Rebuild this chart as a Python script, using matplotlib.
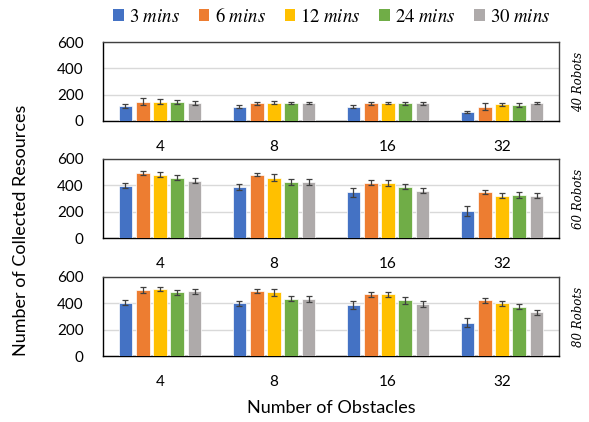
import matplotlib
matplotlib.use("Agg")
import matplotlib.pyplot as plt
import numpy as np
from matplotlib.patches import Patch

plt.rcParams['font.family'] = ['Lato', 'DejaVu Sans']
plt.rcParams['mathtext.fontset'] = 'stix'

obstacles = ["4", "8", "16", "32"]
series = ["3 mins", "6 mins", "12 mins", "24 mins", "30 mins"]
robots = ["40 Robots", "60 Robots", "80 Robots"]
colors = ["#4472C4", "#ED7D31", "#FFC000", "#70AD47", "#AEAAAA"]

vals_40 = [[115, 110, 110, 66],
           [146, 133, 133, 108],
           [146, 140, 140, 127],
           [146, 140, 133, 120],
           [140, 140, 133, 134]]
err_40 = [[15, 10, 8, 8],
          [25, 15, 15, 28],
          [18, 13, 8, 10],
          [15, 8, 13, 13],
          [15, 8, 10, 8]]

vals_60 = [[396, 390, 347, 204],
           [495, 480, 421, 347],
           [480, 459, 416, 321],
           [459, 426, 390, 327],
           [434, 426, 360, 321]]
err_60 = [[20, 23, 36, 36],
          [13, 10, 20, 15],
          [20, 25, 23, 20],
          [18, 20, 18, 20],
          [20, 23, 20, 20]]

vals_80 = [[405, 400, 387, 254],
           [504, 491, 468, 423],
           [509, 484, 468, 400],
           [484, 436, 423, 375],
           [491, 430, 395, 332]]
err_80 = [[20, 20, 30, 35],
          [23, 15, 18, 18],
          [18, 25, 20, 18],
          [18, 20, 25, 20],
          [18, 23, 23, 18]]

all_vals = [vals_40, vals_60, vals_80]
all_errs = [err_40, err_60, err_80]

fig = plt.figure(figsize=(5.89, 4.22), dpi=100)
W, H = 589, 422
left, right = 103 / W, 559 / W
panels_px = [(42, 121), (159, 238), (277, 356)]

x = np.arange(len(obstacles))
bw = 0.12
stride = 0.152

for p, (top, bot) in enumerate(panels_px):
    ax = fig.add_axes([left, 1 - bot / H, right - left, (bot - top) / H])
    vals = all_vals[p]
    errs = all_errs[p]
    for i in range(len(series)):
        pos = x + (i - 2) * stride
        ax.bar(pos, vals[i], width=bw, color=colors[i], edgecolor='white',
               linewidth=0.5, zorder=3)
        ax.errorbar(pos, vals[i], yerr=errs[i], fmt='none', ecolor='#404040',
                    elinewidth=0.9, capsize=2, capthick=0.9, zorder=4)
    ax.set_xlim(-0.5, 3.5)
    ax.set_ylim(0, 600)
    ax.set_yticks([0, 200, 400, 600])
    ax.set_xticks(x)
    ax.set_xticklabels(obstacles)
    ax.tick_params(axis='both', length=0, labelsize=11, colors='#000000')
    ax.tick_params(axis='y', pad=14)
    ax.tick_params(axis='x', pad=14)
    ax.yaxis.grid(True, color='#D9D9D9', linewidth=1, zorder=0)
    ax.set_axisbelow(True)
    for s in ['top', 'right']:
        ax.spines[s].set_color('#404040')
        ax.spines[s].set_linewidth(1)
    for s in ['left', 'bottom']:
        ax.spines[s].set_color('#000000')
        ax.spines[s].set_linewidth(1)
    ax.text(1.042, 0.5, robots[p], transform=ax.transAxes, rotation=90,
            ha='center', va='center', fontsize=8.5, style='italic',
            family=['DejaVu Serif'])

fig.text(0.035, 0.455, "Number of Collected Resources", rotation=90,
         ha='center', va='center', fontsize=13)
fig.text(331 / W, 1 - 408 / H, "Number of Obstacles", ha='center',
         va='center', fontsize=13)

def leg_label(s):
    n, m = s.split()
    return r"$%s\ \mathit{%s}$" % (n, m)

handles = [Patch(facecolor=c, edgecolor='none') for c in colors]
fig.legend(handles, [leg_label(s) for s in series], loc='center',
           bbox_to_anchor=(332 / W, 1 - 15 / H), ncol=5, frameon=False,
           fontsize=13.5, handlelength=0.55, handleheight=0.55,
           handletextpad=0.3, columnspacing=1.0, borderaxespad=0)

fig.savefig("out.png", dpi=100)
